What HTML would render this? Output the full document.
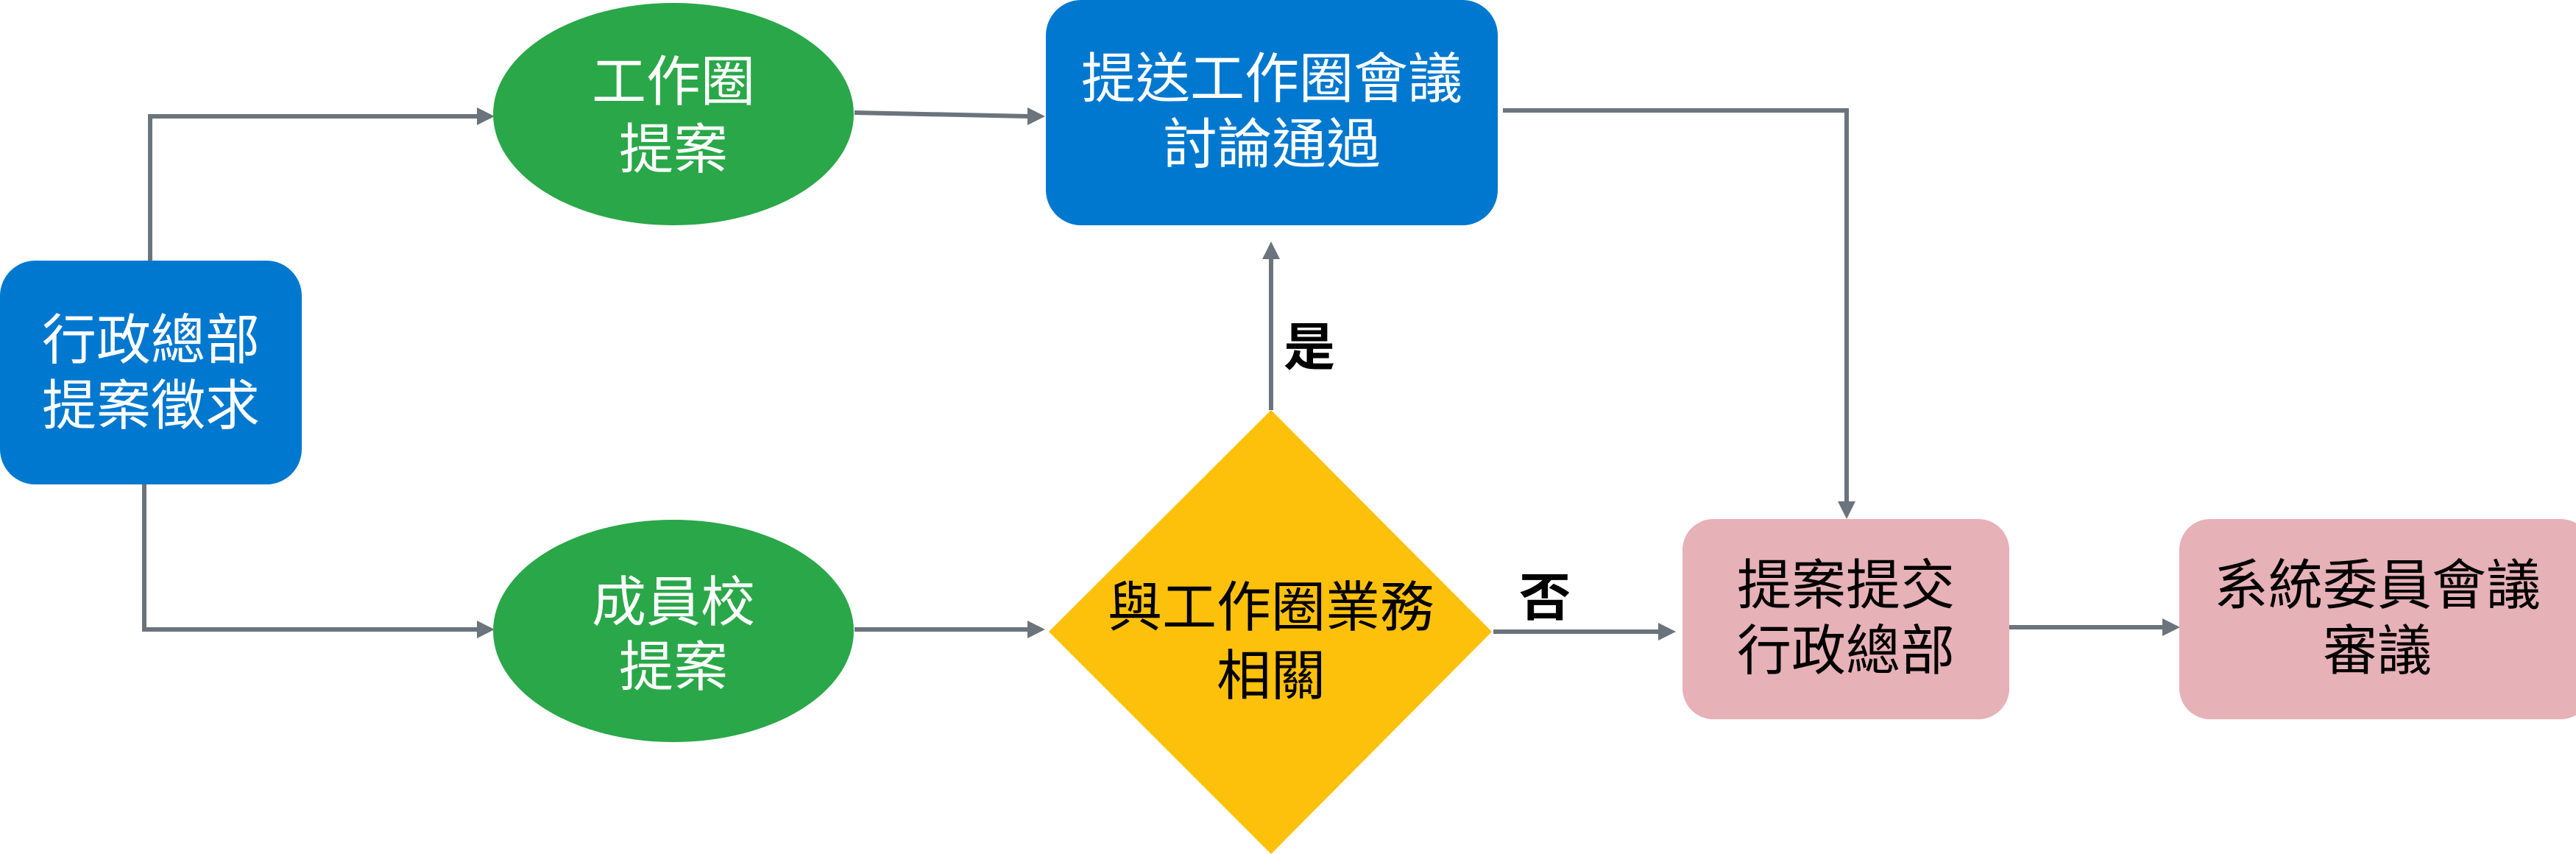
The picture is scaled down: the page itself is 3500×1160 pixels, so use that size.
<!DOCTYPE html>
<html><head><meta charset="utf-8"><style>
html,body{margin:0;padding:0;background:#fff;}
svg{display:block;}
text{font-family:"Liberation Sans","Noto Sans CJK TC",sans-serif;font-size:74px;text-anchor:middle;dominant-baseline:central;}
.w{fill:#fff;}
.k{fill:#000;}
.b{font-weight:bold;font-size:70px;}
</style></head><body>
<svg width="3500" height="1160" viewBox="0 0 3500 1160" xmlns="http://www.w3.org/2000/svg">
<g fill="none" stroke="#6b737c" stroke-width="6">
<polyline points="204,354 204,158 648,158"/>
<polyline points="196,658 196,855 648,855"/>
<line x1="1161" y1="153" x2="1398" y2="158"/>
<line x1="1161" y1="855" x2="1398" y2="855"/>
<line x1="1727" y1="557" x2="1727" y2="350"/>
<polyline points="2042,150 2509,150 2509,683"/>
<line x1="2029" y1="858" x2="2255" y2="858"/>
<line x1="2730" y1="852" x2="2940" y2="852"/>
</g>
<g fill="#6b737c">
<polygon points="672,158 648,146 648,170"/>
<polygon points="672,855 648,843 648,867"/>
<polygon points="1420,158 1396,146 1396,170"/>
<polygon points="1420,855 1396,843 1396,867"/>
<polygon points="1727,328 1715,352 1739,352"/>
<polygon points="2509,705 2497,681 2521,681"/>
<polygon points="2277,858 2253,846 2253,870"/>
<polygon points="2962,852 2938,840 2938,864"/>
</g>
<rect x="0" y="354" width="410" height="304" rx="48" fill="#0078cf"/>
<ellipse cx="915" cy="155" rx="245" ry="151" fill="#2aa748"/>
<ellipse cx="915" cy="857" rx="245" ry="151" fill="#2aa748"/>
<rect x="1421" y="0" width="614" height="306" rx="48" fill="#0078cf"/>
<polygon points="1727,557 2027,858 1727,1160 1425,858" fill="#fdc10b"/>
<rect x="2286" y="705" width="444" height="272" rx="42" fill="#e6b1b7"/>
<rect x="2961" y="705" width="560" height="272" rx="42" fill="#e6b1b7"/>
<text class="w" x="205" y="462">行政總部</text>
<text class="w" x="205" y="551">提案徵求</text>
<text class="w" x="915" y="111">工作圈</text>
<text class="w" x="915" y="203">提案</text>
<text class="w" x="915" y="818">成員校</text>
<text class="w" x="915" y="906">提案</text>
<text class="w" x="1728" y="107">提送工作圈會議</text>
<text class="w" x="1728" y="196">討論通過</text>
<text class="k" x="1727" y="825">與工作圈業務</text>
<text class="k" x="1727" y="918">相關</text>
<text class="k" x="2508" y="795">提案提交</text>
<text class="k" x="2508" y="884">行政總部</text>
<text class="k" x="3230" y="795">系統委員會議</text>
<text class="k" x="3230" y="884">審議</text>
<text class="k b" x="1779" y="472">是</text>
<text class="k b" x="2099" y="812">否</text>
</svg>
</body></html>
